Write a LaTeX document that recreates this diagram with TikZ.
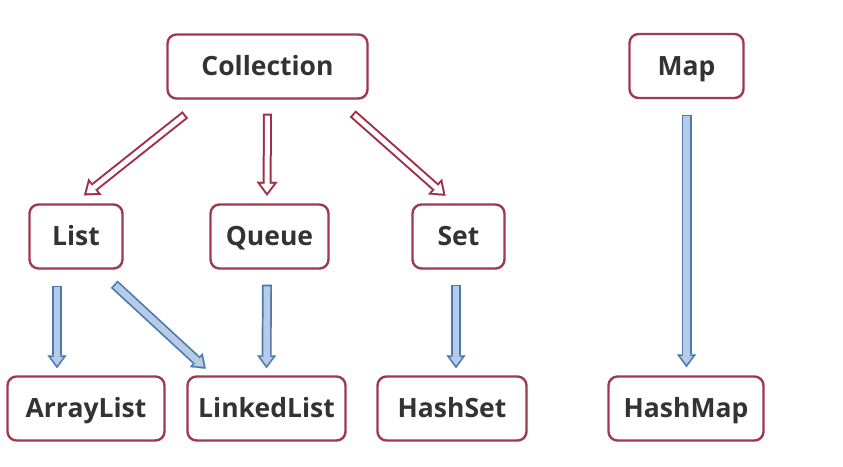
\documentclass[tikz,border=0pt]{standalone}
\usepackage{fontspec}
\setmainfont{Open Sans}
\usepackage{tikz}
\usetikzlibrary{shapes,arrows.meta,positioning,shadows}

\definecolor{boxred}{HTML}{A0394F}
\definecolor{arrred}{HTML}{A02E4B}
\definecolor{arrblue}{HTML}{4A78B4}
\definecolor{fillblue}{HTML}{B7CBE4}
\definecolor{txtgrey}{HTML}{333333}

\tikzset{
	cls/.style={draw=boxred, line width=2.4pt, rounded corners=9pt, fill=white,
		minimum height=64pt, inner sep=0pt, text=txtgrey,
		text height=19pt, text depth=0.5pt, % same baseline in every box
		font=\fontsize{26.5}{30}\selectfont\bfseries,
		drop shadow={opacity=0.18, shadow xshift=0.8pt, shadow yshift=-1.2pt}},
	redout/.style={line width=9pt, arrred, -{Triangle[length=14pt, width=21pt, line width=0.1pt]}},
	redin/.style={line width=5pt, white, shorten <=2pt, shorten >=3.3pt, -{Triangle[length=8.7pt, width=13pt, line width=0.1pt]}},
	blueout/.style={line width=10pt, arrblue, -{Triangle[length=13pt, width=19pt, line width=0.1pt]}},
	bluein/.style={line width=6.6pt, fillblue, shorten <=1.7pt, shorten >=2.9pt, -{Triangle[length=8.4pt, width=12.4pt, line width=0.1pt]}}
}

\begin{document}
\begin{tikzpicture}[x=1pt, y=-1pt]
	\useasboundingbox (0,0) rectangle (843,466);

	% top row: the two interfaces
	\node[cls, minimum width=200pt] (coll) at (267.5,66.5) {Collection};
	\node[cls, minimum width=114pt] (map) at (686.5,66) {Map};

	% middle row
	\node[cls, minimum width=93pt] (list) at (76,236.5) {List};
	\node[cls, minimum width=118pt] (queue) at (269.5,236.5) {Queue};
	\node[cls, minimum width=92pt] (set) at (458.5,236.5) {Set};

	% bottom row: the classes
	\node[cls, minimum width=157pt] (arr) at (86,408.5) {ArrayList};
	\node[cls, minimum width=158pt] (linked) at (266.5,408.5) {LinkedList};
	\node[cls, minimum width=149pt] (hset) at (452,408.5) {HashSet};
	\node[cls, minimum width=155pt] (hmap) at (686,408.5) {HashMap};

	% hollow red arrows, drawn twice: outline first, then the white inside
	\foreach \a/\b in {
		{([xshift=19pt,yshift=-15pt]coll.south west)}/{([xshift=8pt,yshift=8pt]list.north)},
		{([yshift=-14pt]coll.south)}/{([xshift=-2.5pt,yshift=7.5pt]queue.north)},
		{([xshift=-16pt,yshift=-14pt]coll.south east)}/{([xshift=-13pt,yshift=7.5pt]set.north)}}{
		\draw[redout] \a -- \b;
		\draw[redin] \a -- \b;
	}

	% filled blue arrows, same trick
	\foreach \a/\b in {
		{([xshift=-19pt,yshift=-16pt]list.south)}/{([xshift=-29pt,yshift=7pt]arr.north)},
		{([xshift=-9.5pt,yshift=-14.5pt]list.south east)}/{([xshift=19.5pt,yshift=6.5pt]linked.north west)},
		{([xshift=-2.5pt,yshift=-15pt]queue.south)}/{([yshift=7pt]linked.north)},
		{([xshift=-2.5pt,yshift=-15pt]set.south)}/{([xshift=4pt,yshift=7pt]hset.north)},
		{([yshift=-15.5pt]map.south)}/{([xshift=0.5pt,yshift=8pt]hmap.north)}}{
		\draw[blueout] \a -- \b;
		\draw[bluein] \a -- \b;
	}
\end{tikzpicture}
\end{document}
